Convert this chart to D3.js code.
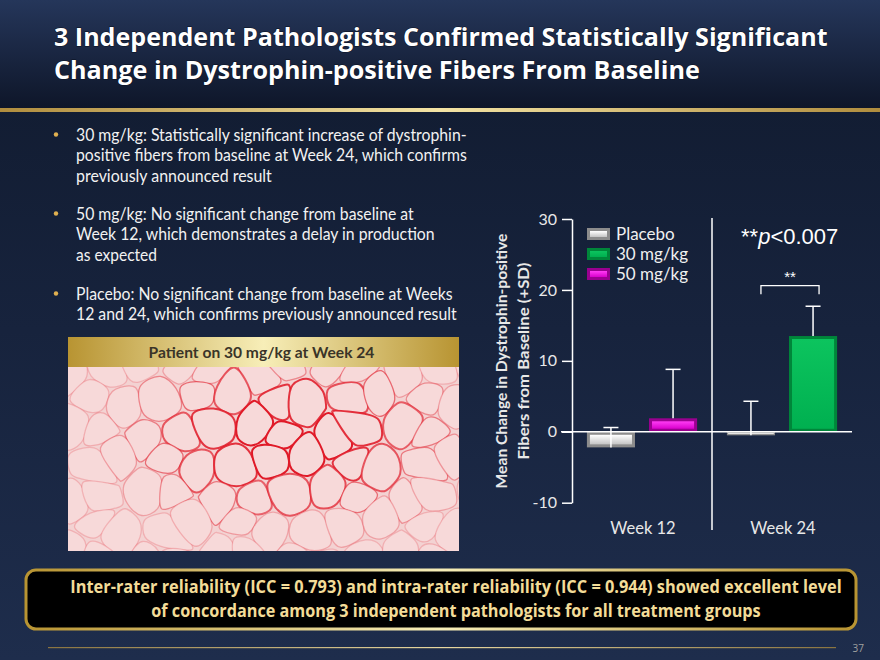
<!DOCTYPE html>
<html>
<head>
<meta charset="utf-8">
<script src="https://cdn.jsdelivr.net/npm/d3@7"></script>
<style>
  html, body { margin: 0; padding: 0; background: #16213a; }
  svg { display: block; }
</style>
</head>
<body>
<div id="slide"></div>
<script>
// Chart data
const weeks = ["Week 12", "Week 24"];
const groups = ["Placebo", "30 mg/kg", "50 mg/kg"];
const week12Groups = ["Placebo", "50 mg/kg"];
const week12Mean = [-2.2, 1.9];
const week12SD = [2.8, 6.9];
const week24Groups = ["Placebo", "30 mg/kg"];
const week24Mean = [-0.5, 13.5];
const week24SD = [4.8, 4.2];
const yTicks = [-10, 0, 10, 20, 30];
const pLabel = "p<0.007";

// Slide text
const titleLines = [
  "3 Independent Pathologists Confirmed Statistically Significant",
  "Change in Dystrophin-positive Fibers From Baseline"
];
const bullets = [
  ["30 mg/kg: Statistically significant increase of dystrophin-",
   "positive fibers from baseline at Week 24, which confirms",
   "previously announced result"],
  ["50 mg/kg: No significant change from baseline at",
   "Week 12, which demonstrates a delay in production",
   "as expected"],
  ["Placebo: No significant change from baseline at Weeks",
   "12 and 24, which confirms previously announced result"]
];
const bulletWidths = [[391, 391, 196], [338, 359, 81], [377, 381]];
const footerLines = [
  "Inter-rater reliability (ICC = 0.793) and intra-rater reliability (ICC = 0.944) showed excellent level",
  "of concordance among 3 independent pathologists for all treatment groups"
];

const rows = [];
week12Groups.forEach((g, i) => rows.push({ week: weeks[0], slot: i, group: g, mean: week12Mean[i], sd: week12SD[i] }));
week24Groups.forEach((g, i) => rows.push({ week: weeks[1], slot: i, group: g, mean: week24Mean[i], sd: week24SD[i] }));

const W = 880, H = 660;
const bodyFont = "Lato, 'Open Sans', sans-serif";
const titleFont = "'Open Sans', Lato, sans-serif";

const svg = d3.select("#slide").append("svg")
  .attr("width", W).attr("height", H)
  .attr("viewBox", [0, 0, W, H]);

const defs = svg.append("defs");

// squeeze a text horizontally so it takes the given width (Calibri is narrow)
function fit(sel, width) {
  sel.each(function (d, i) {
    const w = typeof width === "function" ? width(d, i) : width;
    const t = d3.select(this);
    const ax = +t.attr("x");
    const s = w / this.getComputedTextLength();
    t.attr("transform", `translate(${ax},0) scale(${s},1) translate(${-ax},0)`);
  });
  return sel;
}

function linGrad(id, stops, x2 = "0", y2 = "1") {
  const g = defs.append("linearGradient").attr("id", id)
    .attr("x1", 0).attr("y1", 0).attr("x2", x2).attr("y2", y2);
  stops.forEach(([o, c]) => g.append("stop").attr("offset", o).attr("stop-color", c));
}

linGrad("bg", [["0", "#101a2e"], ["0.5", "#17233d"], ["1", "#1e2d4c"]]);
linGrad("titleBg", [["0", "#25365a"], ["1", "#0e1629"]]);
linGrad("gold", [["0", "#b08d3e"], ["0.5", "#f3e3a4"], ["1", "#b08d3e"]], "1", "0");
linGrad("goldBar", [["0", "#b89432"], ["0.5", "#f7eeb8"], ["1", "#b89432"]], "1", "0");
linGrad("goldThin", [["0", "#8a7440"], ["0.5", "#e8d8a0"], ["1", "#8a7440"]], "1", "0");

const barStyle = {
  "Placebo": { edge: "#8c8c8c", top: "#ffffff", bottom: "#c4c4c4" },
  "30 mg/kg": { edge: "#00863a", top: "#0cc45e", bottom: "#00b050" },
  "50 mg/kg": { edge: "#9a0090", top: "#ff3cf4", bottom: "#d800cc" }
};
Object.entries(barStyle).forEach(([k, s], i) => {
  s.id = "bar" + i;
  linGrad(s.id, [["0", s.top], ["1", s.bottom]]);
});

// Background
svg.append("rect").attr("width", W).attr("height", H).attr("fill", "url(#bg)");
svg.append("rect").attr("width", W).attr("height", 108).attr("fill", "url(#titleBg)");
svg.append("rect").attr("y", 108).attr("width", W).attr("height", 4).attr("fill", "url(#gold)");

// Title
svg.append("g").selectAll("text").data(titleLines).join("text")
  .attr("x", 54).attr("y", (d, i) => 46 + i * 33.5)
  .attr("fill", "#ffffff")
  .attr("font-family", titleFont)
  .attr("font-weight", "bold")
  .attr("font-size", 24.5)
  .style("paint-order", "stroke")
  .attr("stroke", "#0a1020").attr("stroke-width", 1)
  .text(d => d)
  .call(fit, (d, i) => (i === 0 ? 774 : 646));

// Bullets
const bulletTop = [135, 214, 294];
const lineH = 20.5;
const bg = svg.append("g").attr("font-family", bodyFont).attr("font-size", 16.5).attr("fill", "#f2f2f2");
bullets.forEach((lines, bi) => {
  bg.append("circle").attr("cx", 56).attr("cy", bulletTop[bi] - 0.5).attr("r", 2.2).attr("fill", "#e0b050");
  lines.forEach((t, li) => {
    bg.append("text")
      .attr("x", 76).attr("y", bulletTop[bi] + li * lineH)
      .attr("dy", "0.35em")
      .text(t)
      .call(fit, bulletWidths[bi][li]);
  });
});

// Micrograph panel
const px0 = 68, px1 = 459, py0 = 337, pyH = 367, py1 = 551;
svg.append("rect").attr("x", px0).attr("y", py0).attr("width", px1 - px0).attr("height", pyH - py0).attr("fill", "url(#goldBar)");
svg.append("text").attr("x", (px0 + px1) / 2 - 2).attr("y", (py0 + pyH) / 2).attr("dy", "0.35em")
  .attr("text-anchor", "middle").attr("font-family", bodyFont).attr("font-weight", "bold")
  .attr("font-size", 16).attr("fill", "#3a3428")
  .text("Patient on 30 mg/kg at Week 24")
  .call(fit, 226);

defs.append("clipPath").attr("id", "imgClip").append("rect")
  .attr("x", px0).attr("y", pyH).attr("width", px1 - px0).attr("height", py1 - pyH);
const img = svg.append("g").attr("clip-path", "url(#imgClip)");
img.append("rect").attr("x", px0).attr("y", pyH).attr("width", px1 - px0).attr("height", py1 - pyH).attr("fill", "#f3d2d2");

// stylised fibre cells (decoration): jittered lattice -> voronoi -> rounded outlines
const pts = [];
const sp = 37;
for (let r = -1; r < 7; r++) {
  for (let c = -1; c < 13; c++) {
    const jx = Math.sin(r * 12.9898 + c * 78.233) * 11;
    const jy = Math.cos(r * 39.346 + c * 11.135) * 9;
    pts.push([px0 + c * sp + (r % 2) * sp / 2 + jx, pyH + r * 32 + jy]);
  }
}
const vor = d3.Delaunay.from(pts).voronoi([px0 - 40, pyH - 40, px1 + 40, py1 + 40]);
const cellLine = d3.line().curve(d3.curveCatmullRomClosed.alpha(0.5));
const cx0 = 290, cy0 = 440;
pts.forEach((p, i) => {
  const poly = vor.cellPolygon(i);
  if (!poly) return;
  const c = d3.polygonCentroid(poly);
  const shrunk = poly.slice(0, -1).map(q => [c[0] + (q[0] - c[0]) * 0.88, c[1] + (q[1] - c[1]) * 0.88]);
  const dist = Math.hypot((c[0] - cx0) / 160, (c[1] - cy0) / 80);
  const op = Math.max(0.2, Math.min(1, 1.3 - dist * 0.9));
  img.append("path").attr("d", cellLine(shrunk))
    .attr("fill", "#f7d9d9")
    .attr("stroke", "#e01a28")
    .attr("stroke-width", op > 0.6 ? 2 : 1.3)
    .attr("stroke-opacity", op);
});

// Chart
const x = d3.scaleBand().domain(weeks).range([572, 852]);
const xs = d3.scaleBand().domain([0, 1]).range([0, x.bandwidth()]).paddingInner(0.226).paddingOuter(0.24);
const y = d3.scaleLinear().domain([-10, 30]).range([502.7, 219]);

const chart = svg.append("g").attr("font-family", bodyFont);

// bars with bevel
function bevelRect(g, bx, by, bw, bh, s) {
  g.append("rect").attr("x", bx).attr("y", by).attr("width", bw).attr("height", bh).attr("fill", s.edge);
  const b = Math.min(3, bh / 3);
  g.append("rect").attr("x", bx + b).attr("y", by + b).attr("width", Math.max(0, bw - 2 * b)).attr("height", Math.max(0, bh - 2 * b))
    .attr("fill", `url(#${s.id})`);
}

const barG = chart.append("g");
rows.forEach(d => {
  const bx = x(d.week) + xs(d.slot);
  const y0 = y(Math.max(0, d.mean)), y1 = y(Math.min(0, d.mean));
  bevelRect(barG, bx, y0, xs.bandwidth(), y1 - y0, barStyle[d.group]);
});

// zero line
chart.append("line").attr("x1", 561).attr("x2", 852).attr("y1", y(0)).attr("y2", y(0))
  .attr("stroke", "#ffffff").attr("stroke-width", 1.5);

// error bars (+SD)
const errG = chart.append("g").attr("stroke", "#ffffff").attr("stroke-width", 1.5);
rows.forEach(d => {
  const cx = x(d.week) + xs(d.slot) + xs.bandwidth() / 2;
  errG.append("line").attr("x1", cx).attr("x2", cx).attr("y1", y(d.mean)).attr("y2", y(d.mean + d.sd));
  errG.append("line").attr("x1", cx - 7.5).attr("x2", cx + 7.5).attr("y1", y(d.mean + d.sd)).attr("y2", y(d.mean + d.sd));
});

// y axis
const yAxis = chart.append("g").attr("transform", "translate(572,0)")
  .call(d3.axisLeft(y).tickValues(yTicks).tickFormat(d => String(d)).tickSize(10).tickSizeOuter(0).tickPadding(5));
yAxis.select(".domain").attr("stroke", "#ffffff").attr("stroke-width", 1.5);
yAxis.selectAll(".tick line").attr("stroke", "#ffffff").attr("stroke-width", 1.5);
yAxis.selectAll(".tick text").attr("fill", "#e8e8e8").attr("font-size", 16).attr("font-family", bodyFont);

// y title
const yt = chart.append("g").attr("transform", "translate(510,361) rotate(-90)")
  .attr("text-anchor", "middle").attr("fill", "#e8e8e8").attr("font-weight", "bold").attr("font-size", 16);
yt.append("text").attr("x", 0).attr("y", -9).attr("dy", "0.35em")
  .text("Mean Change in Dystrophin-positive").call(fit, 255);
yt.append("text").attr("x", 0).attr("y", 13).attr("dy", "0.35em")
  .text("Fibers from Baseline (+SD)").call(fit, 197);

// divider between weeks
chart.append("line").attr("x1", x(weeks[1])).attr("x2", x(weeks[1])).attr("y1", 218).attr("y2", 530)
  .attr("stroke", "#ffffff").attr("stroke-width", 1.5);

// week labels
chart.selectAll(".wk").data(weeks).join("text")
  .attr("x", d => x(d) + x.bandwidth() / 2 + 1).attr("y", 528).attr("dy", "0.35em")
  .attr("text-anchor", "middle").attr("fill", "#e8e8e8").attr("font-size", 16.5)
  .text(d => d);

// legend
const leg = chart.append("g");
groups.forEach((g, i) => {
  const ly = 234 + i * 20;
  bevelRect(leg, 587, ly - 6, 23, 12, barStyle[g]);
  leg.append("text").attr("x", 616).attr("y", ly).attr("dy", "0.35em")
    .attr("fill", "#f0f0f0").attr("font-size", 17).text(g);
});

// significance
const pt = chart.append("text").attr("x", 741).attr("y", 244)
  .attr("fill", "#ffffff").attr("font-size", 22).attr("font-family", "'Liberation Sans', Arial, sans-serif");
pt.append("tspan").text("**");
pt.append("tspan").attr("font-style", "italic").text(pLabel.slice(0, 1));
pt.append("tspan").text(pLabel.slice(1));

const bx1 = x(weeks[1]) + xs(0) + xs.bandwidth() / 2 + 10;
const bx2 = x(weeks[1]) + xs(1) + xs.bandwidth() / 2 + 6;
chart.append("path")
  .attr("d", `M${bx1},${y(19.4)}V${y(20.6)}H${bx2}V${y(19.4)}`)
  .attr("fill", "none").attr("stroke", "#ffffff").attr("stroke-width", 1.3);
chart.append("text").attr("x", (bx1 + bx2) / 2).attr("y", y(20.6) - 4)
  .attr("text-anchor", "middle").attr("fill", "#ffffff").attr("font-size", 15)
  .attr("font-family", "'Liberation Sans', Arial, sans-serif")
  .text("**");

// bottom callout
svg.append("rect").attr("x", 26).attr("y", 570).attr("width", 830).attr("height", 59).attr("rx", 10)
  .attr("fill", "#000000").attr("stroke", "url(#goldBar)").attr("stroke-width", 3);
svg.append("g").selectAll("text").data(footerLines).join("text")
  .attr("x", 456).attr("y", (d, i) => 587.5 + i * 24).attr("dy", "0.35em")
  .attr("text-anchor", "middle")
  .attr("fill", "#f3dc98").attr("font-family", titleFont).attr("font-weight", "bold").attr("font-size", 17)
  .text(d => d)
  .call(fit, (d, i) => (i === 0 ? 772 : 610));

// footer rule and page number
svg.append("rect").attr("x", 48).attr("y", 647).attr("width", 788).attr("height", 1.2).attr("fill", "url(#goldThin)");
svg.append("text").attr("x", 864).attr("y", 648).attr("dy", "0.35em").attr("text-anchor", "end")
  .attr("fill", "#a0a0a0").attr("font-family", titleFont).attr("font-size", 10).text("37");
</script>
</body>
</html>
